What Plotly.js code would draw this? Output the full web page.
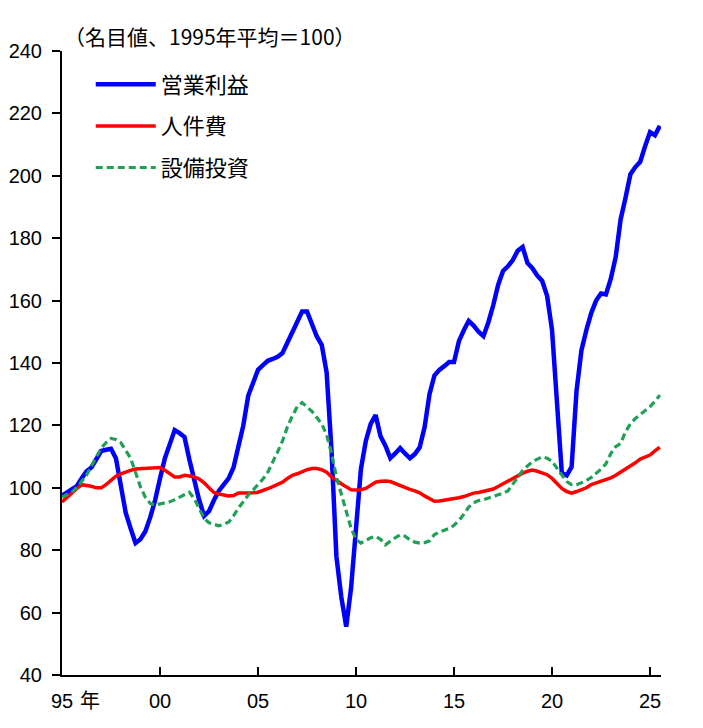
<!DOCTYPE html>
<html>
<head>
<meta charset="utf-8">
<script src="https://cdn.plot.ly/plotly-3.0.1.min.js"></script>
<style>
  html, body { margin: 0; padding: 0; background: #fff; }
  #plot { width: 703px; height: 728px; }
</style>
</head>
<body>
<div id="plot"></div>
<script>
// quarterly data, 1995Q1 .. 2025Q3 (1995 average = 100)
var startYear = 1995;

var profit = [
  97.5, 98.5, 99.3, 100.5, 103, 105.3, 106.5, 109, 111.8, 112.2, 112.5, 109.5,
  100, 92, 87, 82.3, 83.5, 86, 90.5, 96, 103, 109.5, 114, 118.5,
  117.5, 116.3, 109, 102, 96, 91, 92.5, 96, 99, 101, 103, 106.5,
  113, 120, 129.5, 134, 137.8, 139.3, 140.7, 141.3, 142, 143.2, 146.5, 150.5,
  153.5, 156.5, 156.5, 152, 148.5, 145.8, 137, 112, 78, 65, 55.5, 68,
  86, 106, 115, 120.5, 123.3, 116.5, 113.5, 109.5, 111, 112.7, 111, 109.5,
  110.8, 113, 119.5, 130, 136, 137.8, 139, 140.3, 140.3, 147, 150.5, 153.5,
  152, 150, 148.6, 153, 158.5, 165, 169.5, 171, 173, 176, 177.2, 172,
  170.4, 168, 166.3, 161.5, 150.6, 125, 104.7, 104, 106.7, 131, 144, 150.5,
  156, 160, 162.3, 162, 167, 174, 186, 193, 200.5, 202.8, 204.5, 209.5,
  214, 213, 216
];

var labour = [
  95.5, 97, 98.3, 99.7, 101, 100.8, 100.5, 100, 100, 101, 102.5, 103.7,
  104.5, 105.2, 105.6, 106, 106.1, 106.3, 106.4, 106.6, 106.5, 105.6, 104.5, 103.5,
  103.5, 104, 103.8, 103.5, 102.8, 101.6, 100, 98.5, 98, 97.6, 97.4, 97.5,
  98.3, 98.3, 98.3, 98.4, 98.6, 99.1, 99.7, 100.4, 101, 101.8, 103, 104,
  104.5, 105.2, 105.8, 106.2, 106.2, 105.8, 105, 103.5, 102.3, 101.3, 100.3, 99.4,
  99.3, 99.4, 99.8, 100.8, 101.8, 102.1, 102.2, 102, 101.3, 100.7, 100.1, 99.5,
  99, 98.4, 97.4, 96.5, 95.7, 95.8, 96, 96.3, 96.5, 96.8, 97.2, 97.7,
  98.3, 98.5, 98.8, 99.2, 99.6, 100.4, 101.3, 102.2, 103, 103.9, 104.7, 105.3,
  105.7, 105.3, 104.8, 104.2, 103, 101.3, 99.8, 98.8, 98.3, 98.8, 99.3, 100,
  101, 101.5, 102, 102.5, 103.2, 104, 105, 105.8, 106.7, 108, 109.2, 109.8,
  110.5, 111.8, 113
];

var capex = [
  97, 97.8, 98.6, 100, 102, 104, 107, 110, 112.7, 114.5, 115.8, 115.5,
  114.5, 112, 109.5, 105, 100.3, 97, 95, 94.5, 94.8, 95.2, 95.5, 96.2,
  97, 97.8, 98.6, 96.5, 93.5, 90.2, 88.8, 88.3, 87.8, 88.3, 89, 91,
  93.5, 95.5, 97.7, 99.3, 101, 102.8, 105, 108, 111.5, 115, 119.5, 123,
  126, 127.3, 125.8, 124.5, 122.5, 120.5, 117, 111, 103.5, 97.5, 92.5, 87,
  83.5, 82.3, 83.3, 84, 84.4, 83.5, 81.7, 83, 84, 84.9, 84.5, 83.3,
  82.6, 82.3, 82.4, 83, 85, 85.8, 86.4, 87, 88, 89.5, 91.5, 93.8,
  95.2, 95.9, 96.2, 96.6, 97.2, 97.8, 98.2, 99, 101.2, 103.5, 105.5, 107,
  108.3, 109.2, 109.9, 109.5, 108.5, 106.3, 104, 102, 101, 101, 101.6, 102.3,
  103.3, 104.5, 106, 107.7, 111, 113.2, 114.2, 118, 120.5, 122.2, 123.5, 124.7,
  126, 127.7, 129.7
];

var tickYears = [1995, 2000, 2005, 2010, 2015, 2020, 2025];
var tickLabels = ["95", "00", "05", "10", "15", "20", "25"];

var quarters = profit.map((v, i) => startYear + i / 4);

var font = "Liberation Sans, Arial, Noto Sans CJK JP, sans-serif";
var jpFont = "Noto Sans CJK JP, sans-serif";

var trace1 = {
  x: quarters,
  y: profit,
  name: "営業利益",
  legendgroup: "a",
  type: "scatter",
  mode: "lines",
  line: { color: "#0000ff", width: 4.5 }
};

var trace2 = {
  x: quarters,
  y: labour,
  name: "人件費",
  legendgroup: "b",
  type: "scatter",
  mode: "lines",
  line: { color: "#ff0000", width: 3.5 }
};

var trace3 = {
  x: quarters,
  y: capex,
  name: "設備投資",
  legendgroup: "c",
  type: "scatter",
  mode: "lines",
  line: { color: "#1fa055", width: 3.2, dash: "7px,4px" }
};

var layout = {
  width: 703,
  height: 728,
  margin: { l: 62, r: 42, t: 51, b: 53 },
  paper_bgcolor: "#fff",
  plot_bgcolor: "#fff",
  font: { family: font, size: 20, color: "#000" },
  showlegend: true,
  legend: {
    x: 0.048, y: 0.98, xanchor: "left", yanchor: "top",
    font: { family: jpFont, size: 22, color: "#000" },
    itemwidth: 60,
    tracegroupgap: 10,
    bgcolor: "rgba(0,0,0,0)"
  },
  xaxis: {
    range: [1995, 2025.56],
    tickvals: tickYears,
    ticktext: tickLabels,
    ticks: "inside",
    ticklen: 8,
    tickwidth: 2,
    tickcolor: "#000",
    showline: true,
    linecolor: "#000",
    linewidth: 2,
    showgrid: false,
    zeroline: false,
    ticklabelstandoff: 7,
    tickfont: { family: font, size: 20 }
  },
  yaxis: {
    range: [40, 240],
    dtick: 20,
    tick0: 40,
    ticks: "outside",
    ticklen: 8,
    tickwidth: 2,
    tickcolor: "#000",
    showline: true,
    linecolor: "#000",
    linewidth: 2,
    showgrid: false,
    zeroline: false,
    ticklabelstandoff: 6,
    tickfont: { family: font, size: 20 }
  },
  annotations: [
    {
      text: "（名目値、1995年平均＝100）",
      xref: "paper", yref: "paper",
      x: 0.0, y: 1.024, xanchor: "left", yanchor: "middle",
      showarrow: false,
      font: { family: jpFont, size: 21, color: "#000" }
    },
    {
      text: "年",
      xref: "paper", yref: "paper",
      x: 0.047, y: -0.04, xanchor: "center", yanchor: "middle",
      showarrow: false,
      font: { family: jpFont, size: 20, color: "#000" }
    }
  ]
};

Plotly.newPlot("plot", [trace1, trace2, trace3], layout, { displayModeBar: false, staticPlot: true });
</script>
</body>
</html>
